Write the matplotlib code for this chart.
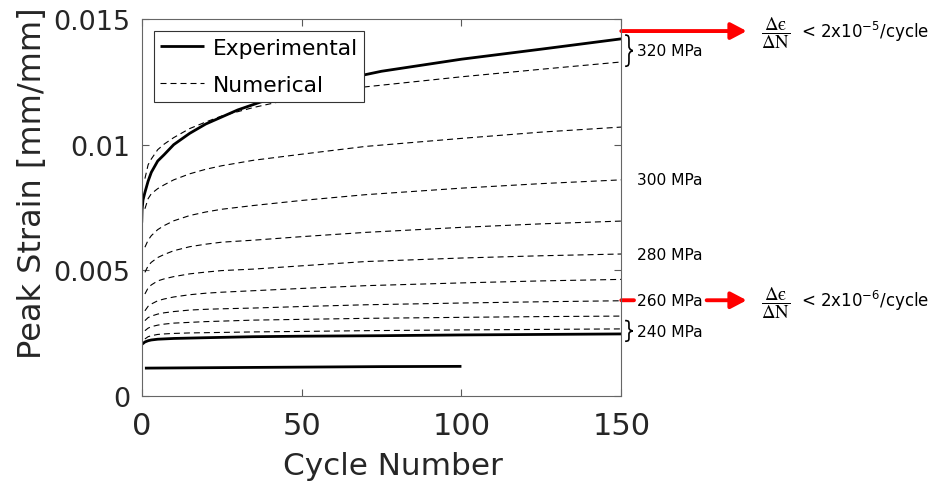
import matplotlib
matplotlib.use("Agg")
import matplotlib.pyplot as plt
import matplotlib.ticker as mticker
import matplotlib.transforms as mtransforms
from matplotlib.path import Path
from matplotlib.patches import PathPatch, FancyArrowPatch

plt.rcParams['font.family'] = ['DejaVu Sans']

# ---------------- data ----------------
# Numerical creep curves, one per stress level (MPa)
cycles_num = [1, 2, 3, 5, 7, 10, 15, 20, 25, 35, 50, 70, 100, 125, 150]
num_320 = [0.00865, 0.0092, 0.00943, 0.0098, 0.01002, 0.01028, 0.01064, 0.0109,
           0.01114, 0.01148, 0.0119, 0.0123, 0.0127, 0.0130, 0.01329]
num_310 = [0.00745, 0.00785, 0.00805, 0.00825, 0.0084, 0.0086, 0.00884, 0.00902,
           0.00916, 0.00938, 0.00962, 0.00993, 0.01025, 0.0105, 0.0107]
num_300 = [0.00592, 0.0062, 0.00638, 0.00662, 0.00678, 0.00697, 0.00718, 0.00732,
           0.00743, 0.00758, 0.00778, 0.00801, 0.00827, 0.00845, 0.0086]
num_290 = [0.00492, 0.00518, 0.00532, 0.00551, 0.00563, 0.00578, 0.00594, 0.00604,
           0.00612, 0.0062, 0.00634, 0.00651, 0.00671, 0.00685, 0.00696]
num_280 = [0.00406, 0.0043, 0.00442, 0.00458, 0.00466, 0.00475, 0.00486, 0.00493,
           0.00499, 0.00505, 0.00518, 0.00535, 0.00549, 0.00558, 0.00565]
num_270 = [0.00339, 0.00357, 0.00366, 0.00379, 0.00386, 0.00394, 0.00403, 0.00409,
           0.00413, 0.00419, 0.00428, 0.00439, 0.0045, 0.00458, 0.00464]
num_260 = [0.0030, 0.00312, 0.00318, 0.00326, 0.00331, 0.00336, 0.00342, 0.00345,
           0.00347, 0.0035, 0.00356, 0.00363, 0.0037, 0.00375, 0.00379]
num_250 = [0.0026, 0.0027, 0.00276, 0.00282, 0.00286, 0.0029, 0.00293, 0.00296,
           0.00298, 0.00302, 0.00305, 0.00309, 0.00313, 0.00316, 0.00318]
num_240 = [0.00227, 0.00236, 0.0024, 0.00245, 0.00247, 0.00249, 0.00251, 0.00252,
           0.00253, 0.00255, 0.00257, 0.0026, 0.00263, 0.00265, 0.00267]
numerical = [num_320, num_310, num_300, num_290, num_280,
             num_270, num_260, num_250, num_240]

# Experimental peak strain, 320 MPa
cycles_exp_320 = [0, 0.1, 0.4, 1, 2, 3, 5, 7, 10, 15, 20, 25, 30, 40, 50, 60, 75,
                  100, 125, 150]
exp_320 = [0.0069, 0.0074, 0.0078, 0.0081, 0.00855, 0.0089, 0.00935, 0.0096,
           0.01000, 0.01045, 0.01082, 0.01110, 0.01138, 0.01182, 0.0122, 0.01252,
           0.01292, 0.0134, 0.0138, 0.01421]

# Experimental peak strain, 240 MPa
cycles_exp_240 = [0, 1, 2, 3, 5, 10, 20, 35, 50, 75, 100, 125, 150]
exp_240 = [0.00205, 0.00215, 0.0022, 0.00223, 0.00226, 0.00229, 0.00232, 0.00236,
           0.00238, 0.0024, 0.00243, 0.00245, 0.00247]

# Experimental peak strain, lower stress test (100 cycles)
cycles_exp_low = [1, 25, 50, 75, 100]
exp_low = [0.00111, 0.00113, 0.00115, 0.00117, 0.00118]

# Stress labels placed at the right of the axes
stress_labels = ['320 MPa', '300 MPa', '280 MPa', '260 MPa', '240 MPa']
stress_label_y = [0.01375, 0.0086, 0.00565, 0.00381, 0.00257]

x_ticks = [0, 50, 100, 150]
y_ticks = [0, 0.005, 0.01, 0.015]

# ---------------- figure ----------------
fig = plt.figure(figsize=(9.33, 4.85), dpi=100)
ax = fig.add_axes([0.1519, 0.1814, 0.514, 0.7774])

dash_kw = dict(color='black', lw=0.8, dashes=(5.4, 3.6))
for i, vals in enumerate(numerical):
    ax.plot(cycles_num, vals, label='Numerical' if i == 0 else None, **dash_kw)

ax.plot(cycles_exp_320, exp_320, color='black', lw=2.0, label='Experimental',
        solid_capstyle='butt')
ax.plot(cycles_exp_240, exp_240, color='black', lw=2.0, solid_capstyle='butt')
ax.plot(cycles_exp_low, exp_low, color='black', lw=2.0, solid_capstyle='butt')

ax.set_xlim(0, 150)
ax.set_ylim(0, 0.015)
ax.set_xticks(x_ticks)
ax.set_yticks(y_ticks)
ax.yaxis.set_major_formatter(mticker.FuncFormatter(lambda v, p: '%g' % v))
ax.tick_params(direction='in', length=5, width=0.8, color='0.35',
               labelcolor='0.15', top=True, right=True)
ax.tick_params(axis='x', pad=11.0, labelsize=22)
ax.tick_params(axis='y', pad=8.0, labelsize=19.5)
for s in ax.spines.values():
    s.set_color('0.4')
    s.set_linewidth(0.8)

ax.set_xlabel('Cycle Number', fontsize=22.4, color='0.15')
ax.set_ylabel('Peak Strain [mm/mm]', fontsize=23, color='0.15')
ax.xaxis.set_label_coords(0.524, -0.145)
ax.yaxis.set_label_coords(-0.195, 0.568)

handles, labels = ax.get_legend_handles_labels()
order = [labels.index('Experimental'), labels.index('Numerical')]
leg = ax.legend([handles[k] for k in order], [labels[k] for k in order],
                loc='upper left', fontsize=15.7, frameon=True, fancybox=False,
                handlelength=2.0, handletextpad=0.4, borderpad=0.3,
                labelspacing=0.8, borderaxespad=0.55, framealpha=1)
leg.get_frame().set_edgecolor('0.2')
leg.get_frame().set_linewidth(0.8)

# ---------------- annotations on the right ----------------
trans = mtransforms.blended_transform_factory(ax.transAxes, ax.transData)

for txt, yv in zip(stress_labels, stress_label_y):
    ax.text(1.033, yv, txt, transform=trans, fontsize=11.2, va='center', ha='left',
            clip_on=False)


def brace(y_top, y_bot, x0=1.008, w=0.016):
    ym = 0.5 * (y_top + y_bot)
    h = y_top - y_bot
    xm = x0 + w * 0.5
    verts = [
        (x0, y_top),
        (xm, y_top), (xm, y_top - 0.05 * h), (xm, y_top - 0.2 * h),
        (xm, ym + 0.15 * h),
        (xm, ym + 0.02 * h), (x0 + w, ym), (x0 + w, ym),
        (x0 + w, ym), (xm, ym - 0.02 * h), (xm, ym - 0.15 * h),
        (xm, y_bot + 0.2 * h),
        (xm, y_bot + 0.05 * h), (xm, y_bot), (x0, y_bot),
    ]
    codes = [Path.MOVETO,
             Path.CURVE4, Path.CURVE4, Path.CURVE4,
             Path.LINETO,
             Path.CURVE4, Path.CURVE4, Path.CURVE4,
             Path.CURVE4, Path.CURVE4, Path.CURVE4,
             Path.LINETO,
             Path.CURVE4, Path.CURVE4, Path.CURVE4]
    p = PathPatch(Path(verts, codes), transform=trans, fill=False, lw=1.2,
                  color='black', clip_on=False)
    ax.add_patch(p)


brace(0.01436, 0.01312)
brace(0.00300, 0.00218)


def red_arrow(x0, x1, yv, head=True):
    style = '-|>,head_length=0.95,head_width=0.5' if head else '-'
    a = FancyArrowPatch((x0, yv), (x1, yv), transform=trans, arrowstyle=style,
                        mutation_scale=10, color='red', lw=2.8,
                        shrinkA=0, shrinkB=0, clip_on=False)
    ax.add_patch(a)


red_arrow(1.0, 1.2615, 0.01452)
red_arrow(1.0, 1.0265, 0.00381, head=False)
red_arrow(1.178, 1.2615, 0.00381)

rate_frac = r'$\dfrac{\mathrm{\Delta ' + '\u03f5' + r'}}{\mathrm{\Delta N}}$'
for yv, expo in [(0.01452, '-5'), (0.00381, '-6')]:
    ax.text(1.322, yv - 0.00006, rate_frac,
            transform=trans, fontsize=13.5, va='center', ha='center',
            math_fontfamily='stix', clip_on=False)
    ax.text(1.375, yv, '< 2x10$^{' + expo + '}$/cycle', transform=trans,
            fontsize=12, va='center', ha='left', math_fontfamily='dejavusans',
            clip_on=False)

fig.savefig('out.png', dpi=100)
